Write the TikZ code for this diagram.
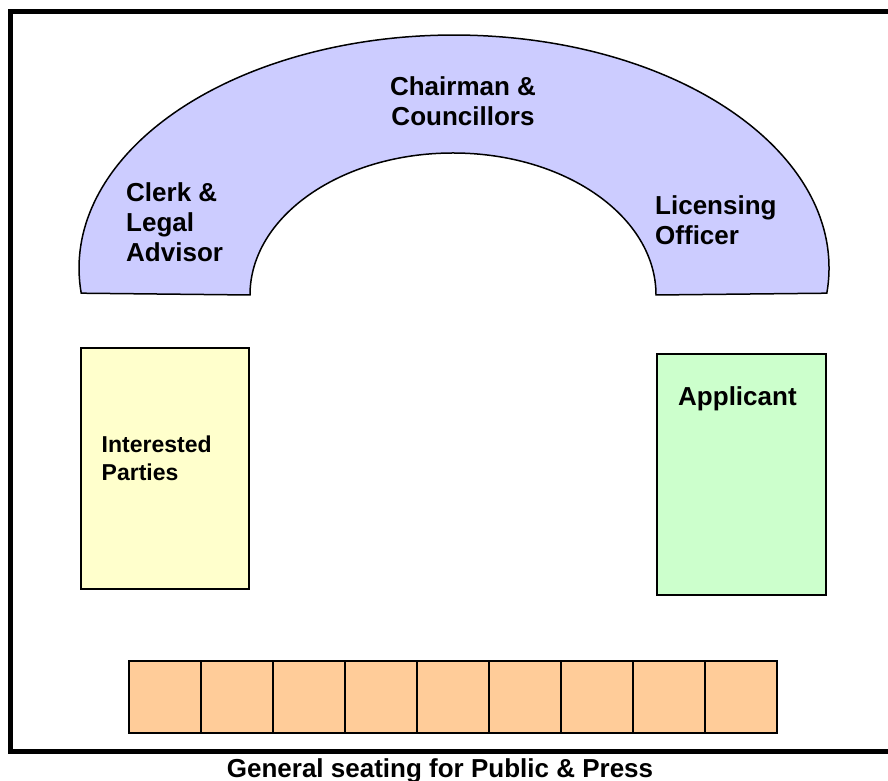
\documentclass[tikz,border=0pt]{standalone}
\usepackage{fontspec}
\setmainfont{Liberation Sans}
\definecolor{benchblue}{HTML}{CCCCFF}
\definecolor{partyyellow}{HTML}{FFFFCC}
\definecolor{applicantgreen}{HTML}{CCFFCC}
\definecolor{seatorange}{HTML}{FFCC99}
\tikzset{
  room/.style={line width=5pt},
  desk/.style={draw=black,line width=1.5pt},
  roomtext/.style={font=\bfseries\fontsize{26}{30}\selectfont,inner sep=0pt,align=left},
  smalltext/.style={font=\bfseries\fontsize{23}{27.5}\selectfont,inner sep=0pt,align=left},
}
\begin{document}
\begin{tikzpicture}[x=1pt,y=1pt]
    \clip (0,0) rectangle (888,781);
    % room outline, runs off on the right
    \draw[room] (10,29) rectangle (900,769);
    % the bench
    \draw[desk,fill=benchblue] (250,486) arc[start angle=180,end angle=0,x radius=203,y radius=142]
      -- (826.8,487.8) arc[start angle=-6.2,end angle=186.2,x radius=375,y radius=233] -- cycle;
    \node[roomtext,align=center,anchor=north] (chair) at (463,705) {Chairman \&\\Councillors};
    \node[roomtext,anchor=north west] (clerk) at (126,599) {Clerk \&\\Legal\\Advisor};
    \node[roomtext,anchor=north west] (officer) at (655,585.6) {Licensing\\Officer};
    % tables
    \draw[desk,fill=partyyellow] (81,433) rectangle (249,192);
    \draw[desk,fill=applicantgreen] (657,427) rectangle (826,186);
    \node[smalltext,anchor=north west] (parties) at (101.5,345) {Interested\\Parties};
    \node[roomtext,anchor=base west] (applicant) at (678,375) {Applicant};
    % public seats
    \foreach \i in {0,...,8}
    \draw[desk,fill=seatorange] (129+72*\i,120) rectangle ++(72,-72);
    \node[roomtext,anchor=base] (public) at (440,4) {General seating for Public \& Press};
\end{tikzpicture}
\end{document}
